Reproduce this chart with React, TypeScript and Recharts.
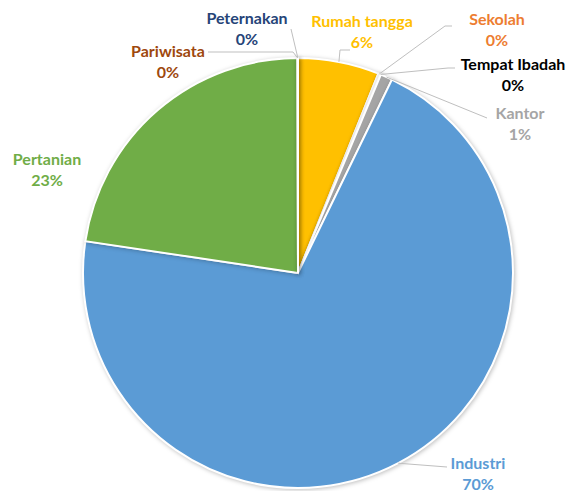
import { PieChart, Pie, Cell } from 'recharts';

// sectors, clockwise from 12 o'clock
const categories = ['Rumah tangga', 'Sekolah', 'Tempat Ibadah', 'Kantor', 'Industri', 'Pertanian', 'Pariwisata', 'Peternakan'];
const shares = [6.1, 0.15, 0.05, 0.9, 70.2, 22.6, 0.02, 0.02];
const colors = ['#FFC000', '#ED7D31', '#1F1F1F', '#A5A5A5', '#5B9BD5', '#70AD47', '#9E480E', '#264478'];
const textColors = ['#FFC000', '#ED7D31', '#000000', '#A5A5A5', '#5B9BD5', '#70AD47', '#9E480E', '#264478'];

const data = categories.map((name, i) => ({ name, value: shares[i] }));

// label placement relative to pie centre: text centre, and leader path (elbow points)
const labelLayout: Record<string, { tx: number; ty: number; path: Array<[number, number]> }> = {
  'Rumah tangga': { tx: 64, ty: -253, path: [[42, -223], [52, -223]] },
  Sekolah: { tx: 199, ty: -255, path: [[147, -247], [154, -247]] },
  'Tempat Ibadah': { tx: 215, ty: -210, path: [[150, -205], [157, -205]] },
  Kantor: { tx: 222, ty: -161, path: [[189, -155]] },
  Industri: { tx: 180, ty: 189, path: [[149, 194]] },
  Pertanian: { tx: -251, ty: -115, path: [] },
  Pariwisata: { tx: -130, ty: -223, path: [[-5, -221], [-90, -221]] },
  Peternakan: { tx: -51, ty: -256, path: [[-7, -244]] },
};

const RAD = Math.PI / 180;

const renderLabel = (props: any) => {
  const { cx, cy, midAngle, outerRadius, percent, name, index } = props;
  const lay = labelLayout[name];
  if (!lay) return null;
  const sx = cx + outerRadius * Math.cos(-midAngle * RAD);
  const sy = cy + outerRadius * Math.sin(-midAngle * RAD);
  const pts = [[sx, sy], ...lay.path.map(([x, y]) => [cx + x, cy + y])];
  const d = pts.length > 1 ? 'M' + pts.map((p) => p.join(',')).join('L') : '';
  const tx = cx + lay.tx;
  const ty = cy + lay.ty;
  return (
    <g key={`lbl-${index}`}>
      {d && <path d={d} stroke="#BFBFBF" strokeWidth={1} fill="none" />}
      <text
        x={tx}
        y={ty}
        textAnchor="middle"
        dominantBaseline="central"
        fill={textColors[index]}
        style={{ fontFamily: 'Lato, sans-serif', fontWeight: 700, fontSize: 16 }}
      >
        <tspan x={tx} dy={0}>{name}</tspan>
        <tspan x={tx} dy={21}>{`${Math.round(percent * 100)}%`}</tspan>
      </text>
    </g>
  );
};

export default function App() {
  return (
    <div style={{ position: 'absolute', left: 0, top: 0, background: '#fff' }}>
      <PieChart width={571} height={491} margin={{ top: 0, right: 0, bottom: 0, left: 0 }}>
        <Pie
          data={data}
          dataKey="value"
          nameKey="name"
          cx={298}
          cy={273}
          outerRadius={215}
          startAngle={90}
          endAngle={-270}
          stroke="#FFFFFF"
          strokeWidth={2}
          label={renderLabel}
          labelLine={false}
          isAnimationActive={false}
        >
          {data.map((d, i) => (
            <Cell
              key={d.name}
              fill={colors[i]}
              style={{ filter: 'drop-shadow(1px 1px 2px rgba(0,0,0,0.25))' }}
            />
          ))}
        </Pie>
      </PieChart>
    </div>
  );
}
